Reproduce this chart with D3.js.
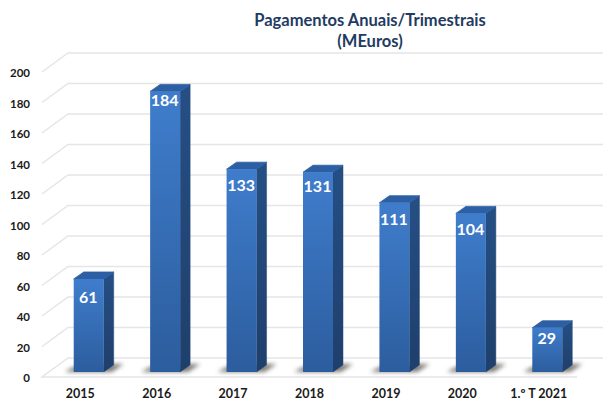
<!DOCTYPE html>
<html>
<head>
<meta charset="utf-8">
<script src="https://cdn.jsdelivr.net/npm/d3@7"></script>
<style>
    html, body { margin: 0; padding: 0; background: #fff; }
    svg { display: block; font-family: Lato, "Open Sans", sans-serif; }
</style>
</head>
<body>
<div id="chart"></div>
<script>
const categories = ['2015', '2016', '2017', '2018', '2019', '2020', '1.º T 2021'];
const payments = [61, 184, 133, 131, 111, 104, 29];
const yTicks = [0, 20, 40, 60, 80, 100, 120, 140, 160, 180, 200];
const titleLines = ['Pagamentos Anuais/Trimestrais', '(MEuros)'];

const width = 603, height = 401;

// Front edge of the 3D floor, and how far the back wall is pushed
const wallDx = 26, wallDy = -19;
const barShiftX = 8.5, barShiftY = -5;
const barDx = 10, barDy = -7;

// Value labels were placed by hand in the original, not all at the same height
const labelDrop = [24, 15, 22, 20, 22, 22, 16];

const x = d3.scaleBand().domain(categories).range([42, 577]);
const y = d3.scaleLinear().domain([0, 200]).range([377, 72]);
const barWidth = 30;

const svg = d3.select('#chart').append('svg')
    .attr('width', width)
    .attr('height', height);

const defs = svg.append('defs');

function addGradient(id, top, bottom) {
    const grad = defs.append('linearGradient')
        .attr('id', id)
        .attr('x1', 0).attr('y1', 0)
        .attr('x2', 0).attr('y2', 1);
    grad.append('stop').attr('offset', '0%').attr('stop-color', top);
    grad.append('stop').attr('offset', '100%').attr('stop-color', bottom);
}
addGradient('front', '#3f7dcc', '#2c5d9e');
addGradient('side', '#254f85', '#1f3f6b');

defs.append('filter')
    .attr('id', 'blur')
    .attr('x', '-30%').attr('y', '-100%')
    .attr('width', '160%').attr('height', '300%')
    .append('feGaussianBlur')
    .attr('stdDeviation', 2.2);

// Wall gridlines with their diagonal going down to the front
const grid = svg.append('g')
    .attr('fill', 'none')
    .attr('stroke', '#e5e5e5')
    .attr('stroke-width', 1.5);

grid.selectAll('path')
    .data(yTicks.filter(d => d > 0))
    .enter()
    .append('path')
    .attr('d', d => `M${x.range()[0]},${y(d)}L${x.range()[0] + wallDx},${y(d) + wallDy}L${width},${y(d) + wallDy}`);

// Floor outline
grid.append('path')
    .attr('d', `M${x.range()[1]},${y(0)}L${x.range()[0]},${y(0)}L${x.range()[0] + wallDx},${y(0) + wallDy}L${width},${y(0) + wallDy}`);

// Y labels
svg.append('g')
    .selectAll('text')
    .data(yTicks)
    .enter()
    .append('text')
    .attr('x', 30)
    .attr('y', d => y(d) + 1)
    .attr('dy', '0.35em')
    .attr('text-anchor', 'end')
    .attr('font-size', 11.5)
    .attr('font-weight', 700)
    .attr('fill', '#1a1a1a')
    .text(d => d);

// X labels
svg.append('g')
    .selectAll('text')
    .data(categories)
    .enter()
    .append('text')
    .attr('x', d => x(d) + x.bandwidth() / 2)
    .attr('y', 398)
    .attr('text-anchor', 'middle')
    .attr('font-size', 12.5)
    .attr('font-weight', 700)
    .attr('fill', '#1a1a1a')
    .text(d => d);

const data = categories.map((c, i) => ({ category: c, value: payments[i], drop: labelDrop[i] }));

const barLeft = d => x(d.category) + x.bandwidth() / 2 + barShiftX - barWidth / 2;
const barBase = y(0) + barShiftY;
const barTop = d => y(d.value) + barShiftY;

// Soft shadow on the floor
svg.append('g')
    .selectAll('path')
    .data(data)
    .enter()
    .append('path')
    .attr('d', d => {
        const l = barLeft(d), r = l + barWidth;
        return `M${l - 9},${barBase}L${l},${barBase - 5}L${r + 10},${barBase - 8}L${r + 20},${barBase - 8}L${r + 8},${barBase}Z`;
    })
    .attr('fill', '#55504a')
    .attr('opacity', 0.75)
    .attr('filter', 'url(#blur)');

const bars = svg.append('g')
    .selectAll('g')
    .data(data)
    .enter()
    .append('g');

// Right side
bars.append('path')
    .attr('d', d => {
        const r = barLeft(d) + barWidth;
        return `M${r},${barTop(d)}L${r + barDx},${barTop(d) + barDy}L${r + barDx},${barBase + barDy}L${r},${barBase}Z`;
    })
    .attr('fill', 'url(#side)')
    .attr('stroke', '#234a7d')
    .attr('stroke-width', 0.5)
    .attr('stroke-linejoin', 'round');

// Top
bars.append('path')
    .attr('d', d => {
        const l = barLeft(d), r = l + barWidth, t = barTop(d);
        return `M${l},${t}L${l + barDx},${t + barDy}L${r + barDx},${t + barDy}L${r},${t}Z`;
    })
    .attr('fill', '#2c5fa3')
    .attr('stroke', '#2c5fa3')
    .attr('stroke-width', 0.8)
    .attr('stroke-linejoin', 'round');

// Front
bars.append('rect')
    .attr('x', barLeft)
    .attr('y', barTop)
    .attr('width', barWidth)
    .attr('height', d => barBase - barTop(d))
    .attr('fill', 'url(#front)');

// Value labels
bars.append('text')
    .attr('x', d => barLeft(d) + barWidth / 2 - 0.5)
    .attr('y', d => barTop(d) + d.drop)
    .attr('text-anchor', 'middle')
    .attr('font-size', 16)
    .attr('font-weight', 700)
    .attr('fill', '#fff')
    .text(d => d.value);

// Title
svg.append('g')
    .selectAll('text')
    .data(titleLines)
    .enter()
    .append('text')
    .attr('x', 370)
    .attr('y', (d, i) => 26 + i * 21)
    .attr('text-anchor', 'middle')
    .attr('font-size', 16.5)
    .attr('font-weight', 700)
    .attr('fill', '#1f3b63')
    .text(d => d);
</script>
</body>
</html>
